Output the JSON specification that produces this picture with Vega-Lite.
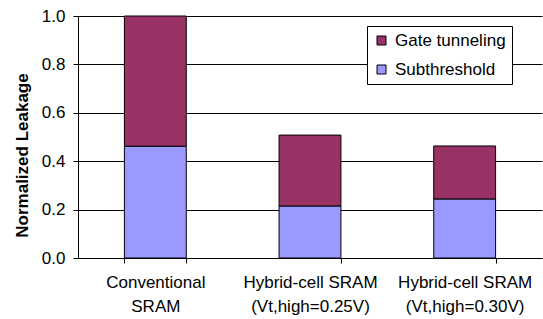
{
  "$schema": "https://vega.github.io/schema/vega-lite/v6.json",
  "autosize": "none",
  "width": 464,
  "height": 242,
  "padding": {"left": 78, "top": 16, "right": 1, "bottom": 61},
  "background": "white",
  "config": {
    "font": "Liberation Sans",
    "view": {"stroke": null}
  },
  "data": {
    "values": [
      {"category": "Conventional\nSRAM", "component": "Subthreshold", "value": 0.462},
      {"category": "Conventional\nSRAM", "component": "Gate tunneling", "value": 0.538},
      {"category": "Hybrid-cell SRAM\n(Vt,high=0.25V)", "component": "Subthreshold", "value": 0.215},
      {"category": "Hybrid-cell SRAM\n(Vt,high=0.25V)", "component": "Gate tunneling", "value": 0.293},
      {"category": "Hybrid-cell SRAM\n(Vt,high=0.30V)", "component": "Subthreshold", "value": 0.244},
      {"category": "Hybrid-cell SRAM\n(Vt,high=0.30V)", "component": "Gate tunneling", "value": 0.219}
    ]
  },
  "mark": {"type": "bar", "stroke": "black", "strokeWidth": 1},
  "encoding": {
    "x": {
      "field": "category",
      "type": "nominal",
      "sort": null,
      "scale": {"paddingInner": 0.6, "paddingOuter": 0.3},
      "axis": {
        "title": null,
        "labelAngle": 0,
        "labelExpr": "split(datum.label, '\\n')",
        "labelFontSize": 17,
        "labelColor": "black",
        "labelLineHeight": 24,
        "labelPadding": 11,
        "tickBand": "extent",
        "tickSize": 5,
        "tickColor": "black",
        "domainColor": "black",
        "grid": false
      }
    },
    "y": {
      "field": "value",
      "type": "quantitative",
      "stack": "zero",
      "scale": {"domain": [0, 1]},
      "axis": {
        "title": "Normalized Leakage",
        "titleFontSize": 17,
        "titleFontWeight": "bold",
        "titleColor": "black",
        "titleAngle": -90,
        "titleX": -56,
        "titleY": 139,
        "titleAlign": "center",
        "titleBaseline": "middle",
        "values": [0, 0.2, 0.4, 0.6, 0.8, 1.0],
        "format": ".1f",
        "labelFontSize": 17,
        "labelColor": "black",
        "labelPadding": 8,
        "tickSize": 5,
        "tickColor": "black",
        "domainColor": "black",
        "grid": true,
        "gridColor": "black",
        "gridWidth": 1
      }
    },
    "color": {
      "field": "component",
      "type": "nominal",
      "scale": {"domain": ["Gate tunneling", "Subthreshold"], "range": ["#993366", "#9999FF"]},
      "legend": {
        "title": null,
        "orient": "none",
        "legendX": 289,
        "legendY": 10,
        "strokeColor": "black",
        "fillColor": "white",
        "padding": 6,
        "symbolType": "square",
        "symbolSize": 81,
        "symbolStrokeColor": "black",
        "symbolStrokeWidth": 1,
        "labelFontSize": 17,
        "labelColor": "black",
        "labelOffset": 5,
        "rowPadding": 11
      }
    },
    "order": {"field": "component", "sort": "descending"}
  }
}
